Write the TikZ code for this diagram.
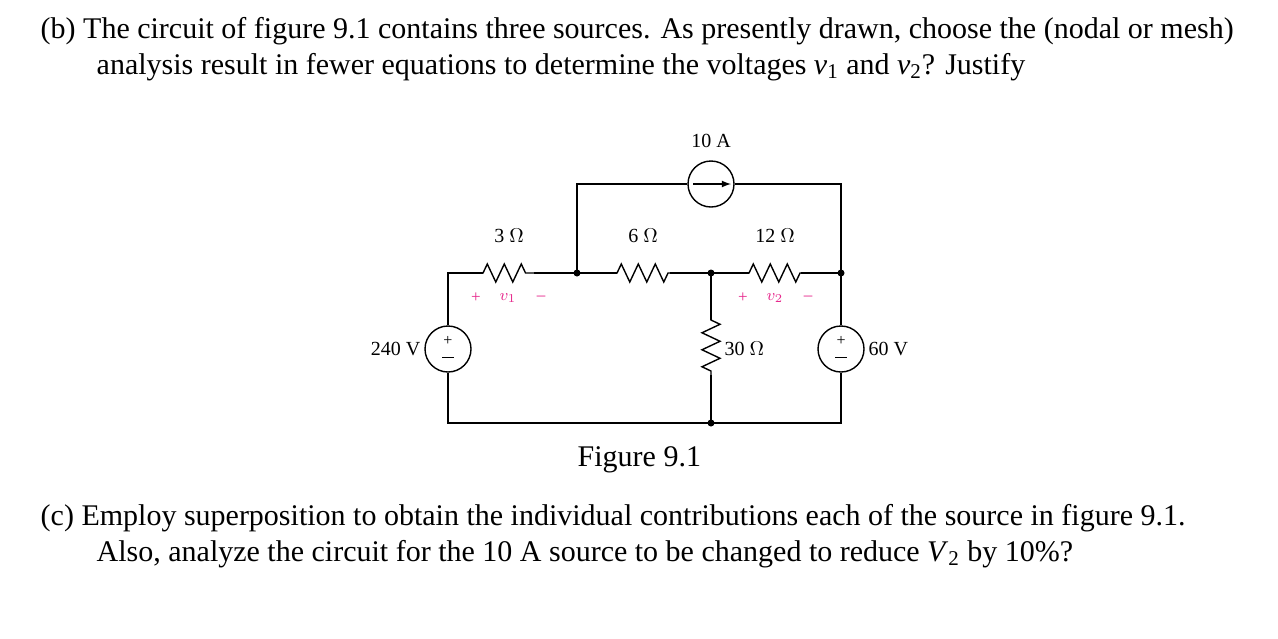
\documentclass[tikz,border=0pt]{standalone}
\usepackage{fontspec}
\setmainfont{Liberation Serif}
\usetikzlibrary{decorations.pathmorphing}
\definecolor{pinkv}{RGB}{230,40,140}
\begin{document}
\begin{tikzpicture}[x=0.5pt,y=-0.5pt,line width=0.7pt,
  txt/.style={anchor=base west,inner sep=0,font=\fontsize{15}{17}\selectfont},
  lab/.style={inner sep=1pt,font=\fontsize{10}{11}\selectfont},
  pl/.style={inner sep=0,text=pinkv,font=\fontsize{8.5}{9}\selectfont},
  res/.style={decorate,decoration={zigzag,segment length=8.5,amplitude=4.5,pre length=0.01,post length=0.01}},
  src/.style={circle,draw,minimum size=23pt,inner sep=0},
  dot/.style={circle,fill,inner sep=0,minimum size=3.5pt}]
\useasboundingbox (0,0) rectangle (1278,638);
\node[txt] (t1) at (40,38) {(b) The circuit of figure 9.1 contains three sources. As presently drawn, choose the (nodal or mesh)};
\node[txt] (t2) at (96,74) {analysis result in fewer equations to determine the voltages \textit{v}\textsubscript{1} and \textit{v}\textsubscript{2}? Justify};
\node[txt] (t3) at (577,466) {Figure 9.1};
\node[txt] (t4) at (40,525) {(c) Employ superposition to obtain the individual contributions each of the source in figure 9.1.};
\node[txt] (t5) at (96,561) {Also, analyze the circuit for the 10 A source to be changed to reduce \textit{V}\textsubscript{2} by 10\%?};
% nodes
\coordinate (tl) at (448,273); \coordinate (n1) at (577,273); \coordinate (n2) at (711,273); \coordinate (n3) at (841,273);
\coordinate (bl) at (448,423); \coordinate (b2) at (711,423); \coordinate (br) at (841,423);
\coordinate (u1) at (577,184); \coordinate (u3) at (841,184);
\node[src] (vs1) at (448,349) {}; \node[src] (vs2) at (841,349) {};
\node[src] (is) at (711,184) {};
\draw[-latex,line width=0.6pt] ([xshift=-9]is.center) -- ([xshift=10]is.center);
\foreach \s in {vs1,vs2}{\node[font=\fontsize{8}{8}\selectfont,inner sep=0] at ([yshift=4]\s.center) {+};
 \draw[line width=0.5pt] ([xshift=-3,yshift=-4]\s.center) -- ([xshift=3,yshift=-4]\s.center);}
\coordinate (r1a) at (483,273); \coordinate (r1b) at (534,273);
\coordinate (r2a) at (617,273); \coordinate (r2b) at (670,273);
\coordinate (r3a) at (749,273); \coordinate (r3b) at (801,273);
\coordinate (r4a) at (711,320); \coordinate (r4b) at (711,375);
\draw (vs1.north) -- (tl) -- (r1a); \draw[res] (r1a) -- (r1b); \draw (r1b) -- (n1) -- (r2a);
\draw[res] (r2a) -- (r2b); \draw (r2b) -- (n2) -- (r3a); \draw[res] (r3a) -- (r3b); \draw (r3b) -- (n3) -- (vs2.north);
\draw (n1) -- (u1) -- (is.west); \draw (is.east) -- (u3) -- (n3);
\draw (n2) -- (r4a); \draw[res] (r4a) -- (r4b); \draw (r4b) -- (b2);
\draw (vs1.south) -- (bl) -- (br) -- (vs2.south);
\foreach \p in {n1,n2,n3,b2} \node[dot] at (\p) {};
\node[lab,above] (l10) at (711,150) {10 A};
\node[lab] (l3) at (509,236) {3 $\Omega$};
\node[lab] (l6) at (643,236) {6 $\Omega$};
\node[lab] (l12) at (775,236) {12 $\Omega$};
\node[lab,anchor=west] (l30) at (722,349) {30 $\Omega$};
\node[lab,anchor=east] (l240) at (423,349) {240 V};
\node[lab,anchor=west] (l60) at (866,349) {60 V};
\node[pl] at (476,298) {+}; \node[pl] at (508,298) {$v_1$}; \node[pl] at (541,298) {--};
\node[pl] at (743,298) {+}; \node[pl] at (775,298) {$v_2$}; \node[pl] at (808,298) {--};
\end{tikzpicture}
\end{document}
